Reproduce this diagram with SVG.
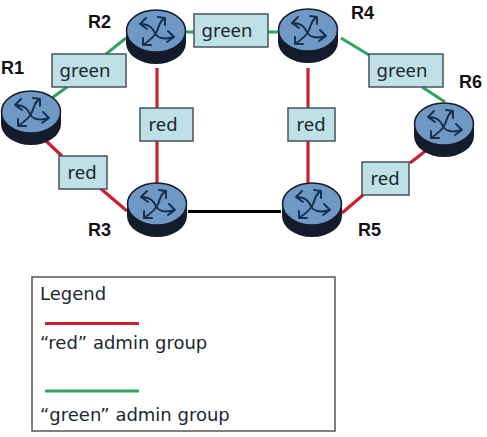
<svg xmlns="http://www.w3.org/2000/svg" width="487" height="437" viewBox="0 0 487 437">
<style>
text{font-family:"DejaVu Sans","Noto Sans",sans-serif;fill:#1c2730}
.rl{font-family:"Liberation Sans",Arial,sans-serif;font-weight:bold;font-size:18px;fill:#111}
.lb{font-family:"Noto Sans","DejaVu Sans",sans-serif;font-size:18.500px;text-anchor:middle}
.box{fill:#bfe0e6;stroke:#44535c;stroke-width:1.500}
.r{stroke:#c8222f;stroke-width:3.200;fill:none}
.g{stroke:#2fa463;stroke-width:3;fill:none}
.k{stroke:#000;stroke-width:3;fill:none}
.leg{font-size:18px}
</style>
<defs>
<g id="router">
<path d="M-30 0V12A30 21 0 0 0 30 12V0Z" fill="#141c2c"/>
<ellipse rx="29.500" ry="21" fill="#6f99c4" stroke="#141c2c" stroke-width="1.500"/>
<g fill="none" stroke="#17304f" stroke-width="2" stroke-linecap="round" stroke-linejoin="round">
<path d="M-16 -7C-6 -7 -3 -2 -1 2C1 7 8 9 18 6M-10 -13L-16 -7L-9 -2M12 0L18 6L11 11"/>
<path d="M9 -13C3 -10 3 -4 1 0C-1 5 -7 10 -13 14M2 -14L9 -13L9 -6M-13 7L-13 14L-5 14"/>
</g>
</g>
</defs>
<g id="connectors">
<path class="g" d="M52 98L67 87M106 54L126 38"/>
<path class="g" d="M185 32H194M268 32H279"/>
<path class="g" d="M341 38L369 55M422 87L445 102"/>
<path class="r" d="M157 68V108M157 141V183"/>
<path class="r" d="M308 68V108M308 141V183"/>
<path class="r" d="M46 141L62 156M100 188L127 211"/>
<path class="r" d="M342 213L363 195M410 163L428 149"/>
<path class="k" d="M188 211.500H281"/>
</g>
<g id="R1"><use href="#router" x="31" y="112"/><text class="rl" x="1" y="74">R1</text></g>
<g id="R2"><use href="#router" x="156" y="31"/><text class="rl" x="88" y="28">R2</text></g>
<g id="R3"><use href="#router" x="157" y="204"/><text class="rl" x="88" y="236">R3</text></g>
<g id="R4"><use href="#router" x="308" y="30"/><text class="rl" x="351" y="19">R4</text></g>
<g id="R5"><use href="#router" x="312" y="204"/><text class="rl" x="358" y="236">R5</text></g>
<g id="R6"><use href="#router" x="444" y="124"/><text class="rl" x="459" y="88">R6</text></g>
<g id="label-r1-r2"><rect class="box" x="52" y="54" width="74" height="33"/><text class="lb" x="85" y="77">green</text></g>
<g id="label-r2-r4"><rect class="box" x="194" y="14" width="74" height="33"/><text class="lb" x="227" y="37">green</text></g>
<g id="label-r4-r6"><rect class="box" x="369" y="54" width="74" height="33"/><text class="lb" x="402" y="77">green</text></g>
<g id="label-r2-r3"><rect class="box" x="140" y="108" width="53" height="33"/><text class="lb" x="163" y="131">red</text></g>
<g id="label-r4-r5"><rect class="box" x="288" y="108" width="47" height="33"/><text class="lb" x="311" y="131">red</text></g>
<g id="label-r1-r3"><rect class="box" x="59" y="156" width="48" height="33"/><text class="lb" x="82" y="179">red</text></g>
<g id="label-r5-r6"><rect class="box" x="362" y="162" width="47" height="33"/><text class="lb" x="385" y="185">red</text></g>
<g id="legend">
<rect x="32" y="277" width="303" height="154" fill="#fff" stroke="#555" stroke-width="1.500"/>
<text class="leg" x="40" y="300">Legend</text>
<path class="r" d="M45 323.500H139"/>
<text class="leg" x="40" y="349">“red” admin group</text>
<path class="g" d="M45 391H139"/>
<text class="leg" x="40" y="421">“green” admin group</text>
</g>
</svg>
